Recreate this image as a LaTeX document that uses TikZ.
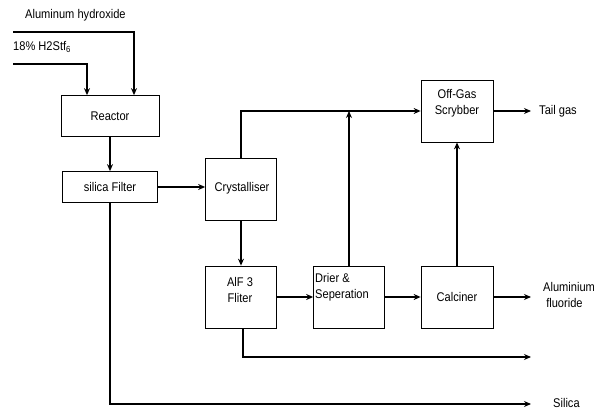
\documentclass[tikz,border=0pt]{standalone}
\usepackage{fontspec}
\setmainfont{Liberation Sans}
\newfontfamily\labelfont[FakeStretch=0.88]{Liberation Sans}
\usetikzlibrary{arrows.meta}
\begin{document}
\begin{tikzpicture}[x=1pt,y=-1pt,
  box/.style={draw, line width=0.7pt, inner sep=0pt},
  txt/.style={font=\labelfont\fontsize{12.6}{16}\selectfont, inner sep=0pt, align=center},
  flow/.style={line width=2pt, -{Stealth[length=7pt,width=6pt]}}]
\useasboundingbox (0,0) rectangle (595,409);
% boxes
\node[box, minimum width=98pt, minimum height=41pt] (reactor) at (110,116) {};
\node[box, minimum width=95pt, minimum height=31pt] (silica) at (110,187) {};
\node[box, minimum width=71pt, minimum height=62pt] (cryst) at (241,189) {};
\node[box, minimum width=72pt, minimum height=62pt] (offgas) at (457,111) {};
\node[box, minimum width=71pt, minimum height=62pt] (alf) at (241,297) {};
\node[box, minimum width=71pt, minimum height=62pt] (drier) at (349,297) {};
\node[box, minimum width=72pt, minimum height=62pt] (calc) at (457,297) {};
% texts
\node[txt] (treactor) at (110,116) {Reactor};
\node[txt] (tsilica) at (110,187) {silica Filter};
\node[txt] (tcryst) at (242,188) {Crystalliser};
\node[txt] (toffgas) at (457,103) {Off-Gas\\Scrybber};
\node[txt] (talf) at (240,290) {AlF 3\\Fliter};
\node[txt, align=left, anchor=west] (tdrier) at (315,287) {Drier \&\\Seperation};
\node[txt] (tcalc) at (457,297) {Calciner};
\node[txt, anchor=west] (tah) at (25,15) {Aluminum hydroxide};
\node[txt, anchor=west] (th2s) at (13,47) {18\% H2Stf\textsubscript{6}};
\node[txt, anchor=west] (ttail) at (539,111) {Tail gas};
\node[txt, align=left, anchor=west] (talfl) at (543,295) {Aluminium\\\ fluoride};
\node[txt, anchor=west] (tsil) at (553,402.5) {Silica};
% free ends
\coordinate (ahs) at (13,32);
\coordinate (h2s) at (13,64);
\coordinate (tailend) at (531,111);
\coordinate (alflend) at (531,297);
\coordinate (liqend) at (531,357);
\coordinate (silend) at (531,404);
% connectors
\draw[flow] (ahs) -| ([xshift=24pt]reactor.north);
\draw[flow] (h2s) -| ([xshift=-23pt]reactor.north);
\draw[flow] (reactor.south) -- (silica.north);
\draw[flow] (silica.east) -- (silica.east -| cryst.west);
\draw[flow] (cryst.north) |- (offgas.west);
\draw[flow] (offgas.east) -- (tailend);
\draw[flow] (cryst.south) -- (alf.north);
\draw[flow] (alf.east) -- (drier.west);
\draw[flow] (drier.east) -- (calc.west);
\draw[flow] (calc.east) -- (alflend);
\draw[flow] (drier.north) -- (drier.north |- offgas.west);
\draw[flow] (calc.north) -- (offgas.south);
\draw[flow] ([xshift=2pt]alf.south) |- (liqend);
\draw[flow] (silica.south) |- (silend);
\end{tikzpicture}
\end{document}
